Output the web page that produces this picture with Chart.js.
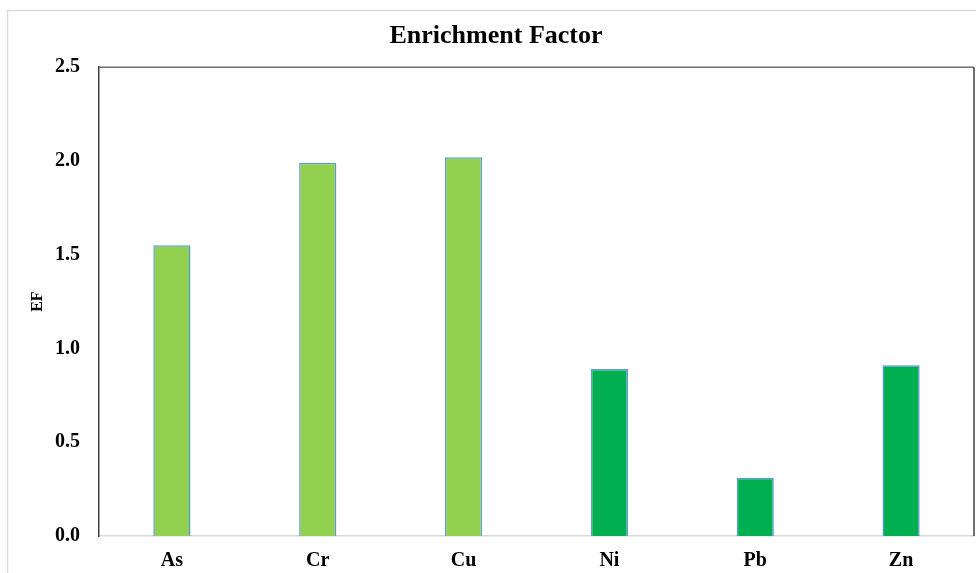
<!DOCTYPE html>
<html>
<head>
<meta charset="utf-8">
<script src="https://cdn.jsdelivr.net/npm/chart.js@4/dist/chart.umd.min.js"></script>
<style>
  html, body { margin: 0; padding: 0; background: #ffffff; }
  #wrap { position: relative; width: 976px; height: 573px; }
  canvas { display: block; }
</style>
</head>
<body>
<div id="wrap"><canvas id="c" width="976" height="573"></canvas></div>
<script>
// Enrichment factor (EF) per element
const elements = ['As', 'Cr', 'Cu', 'Ni', 'Pb', 'Zn'];
const efValues = [1.55, 1.99, 2.02, 0.89, 0.31, 0.91];
const barColors = ['#92D050', '#92D050', '#92D050', '#00B050', '#00B050', '#00B050'];
const yTicks = [0, 0.5, 1.0, 1.5, 2.0, 2.5];

// Outer frame plus the top and right edges of the plot box
const framePlugin = {
  id: 'frame',
  beforeDraw(chart) {
    const ctx = chart.ctx;
    ctx.save();
    ctx.strokeStyle = '#d9d9d9';
    ctx.lineWidth = 1.5;
    ctx.beginPath();
    ctx.moveTo(7.5, chart.height);
    ctx.lineTo(7.5, 10.5);
    ctx.lineTo(chart.width, 10.5);
    ctx.stroke();
    ctx.restore();
  },
  afterDraw(chart) {
    const a = chart.chartArea;
    const ctx = chart.ctx;
    ctx.save();
    ctx.lineWidth = 1.5;
    ctx.strokeStyle = '#6e6e6e';
    ctx.beginPath();
    ctx.moveTo(a.left, a.top);
    ctx.lineTo(a.right, a.top);
    ctx.stroke();
    ctx.strokeStyle = '#404040';
    ctx.beginPath();
    ctx.moveTo(a.right, a.top);
    ctx.lineTo(a.right, a.bottom);
    ctx.stroke();
    ctx.restore();
  }
};

const fontFamily = '"Liberation Serif", "Times New Roman", serif';

new Chart(document.getElementById('c'), {
  type: 'bar',
  data: {
    labels: elements,
    datasets: [{
      data: efValues,
      backgroundColor: barColors,
      borderColor: '#5B9BD5',
      borderWidth: { top: 1.5, left: 1.5, right: 1.5, bottom: 0 },
      barPercentage: 0.255,
      categoryPercentage: 1.0
    }]
  },
  options: {
    responsive: false,
    animation: false,
    layout: { padding: { left: 18, right: 2, top: 0, bottom: 0 } },
    plugins: {
      legend: { display: false },
      tooltip: { enabled: false },
      title: {
        display: true,
        text: 'Enrichment Factor',
        color: '#000000',
        font: { family: fontFamily, size: 26, weight: 'bold', lineHeight: 1.2 },
        padding: { top: 21, bottom: 15 }
      }
    },
    scales: {
      x: {
        afterFit(scale) { scale.height = 37; },
        grid: { display: false, drawTicks: false },
        border: { display: true, color: '#d9d9d9', width: 1.5 },
        ticks: {
          color: '#000000',
          padding: 13,
          font: { family: fontFamily, size: 20, weight: 'bold' }
        }
      },
      y: {
        min: 0,
        max: 2.5,
        afterFit(scale) { scale.width = 81; },
        afterBuildTicks(scale) { scale.ticks = yTicks.map(v => ({ value: v })); },
        grid: { display: false, drawTicks: false },
        border: { display: true, color: '#404040', width: 1.5 },
        ticks: {
          color: '#000000',
          padding: 19,
          font: { family: fontFamily, size: 20, weight: 'bold' },
          callback: v => Number(v).toFixed(1)
        },
        title: {
          display: true,
          text: 'EF',
          color: '#000000',
          font: { family: fontFamily, size: 16, weight: 'bold' },
          padding: { top: 10, bottom: 0 }
        }
      }
    }
  },
  plugins: [framePlugin]
});
</script>
</body>
</html>
